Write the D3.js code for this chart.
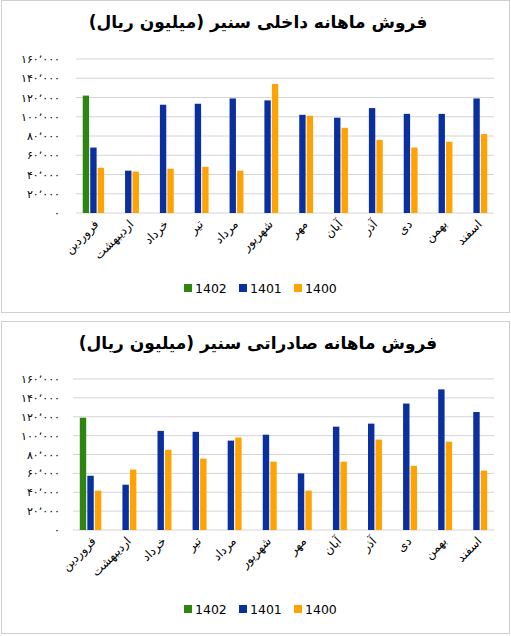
<!DOCTYPE html>
<html><head><meta charset="utf-8">
<script src="https://cdn.jsdelivr.net/npm/d3@7"></script>
<style>body{margin:0;background:#fff}svg{display:block}text{font-family:"DejaVu Sans",sans-serif}</style>
</head><body><svg id="c" width="511" height="636"></svg>
<script>
const months = ["فروردین","اردیبهشت","خرداد","تیر","مرداد","شهریور","مهر","آبان","آذر","دی","بهمن","اسفند"];
const years = ["1402","1401","1400"];
const colors = ["#2e8512","#0a2f9f","#ffa305"];
const ticks = [0,20000,40000,60000,80000,100000,120000,140000,160000];

// فروش داخلی
const dom1402 = [122000,null,null,null,null,null,null,null,null,null,null,null];
const dom1401 = [68000,44000,112500,113500,119000,117000,102000,99000,109000,103000,103000,119000];
const dom1400 = [47000,43000,46000,48000,44000,134000,101000,88500,76000,68000,74000,82000];
// فروش صادراتی
const exp1402 = [119000,null,null,null,null,null,null,null,null,null,null,null];
const exp1401 = [57500,48000,105000,104000,94700,101000,60000,109500,112700,134000,149000,125000];
const exp1400 = [41700,64000,85000,75600,98000,72400,41700,72400,95800,68000,93600,63000];

const svg = d3.select("#c");
const fa = s => s.replace(/\d/g, d => "۰۱۲۳۴۵۶۷۸۹"[d]);

function chart(top, title, series, y0, y1, x0) {
  const g = svg.append("g");
  g.append("rect").attr("x", 1.5).attr("y", top + 0.5).attr("width", 508).attr("height", 312)
    .attr("fill", "#fff").attr("stroke", "#d0d0d0");
  g.append("text").attr("x", 258).attr("y", top + 28).attr("text-anchor", "middle")
    .attr("font-size", 17).attr("font-weight", "bold").attr("direction", "rtl").text(title);
  const x = d3.scaleBand().domain(months).range([x0, 494]);
  const y = d3.scaleLinear().domain([0, 160000]).range([y0, y1]);
  g.selectAll(".grid").data(ticks).join("line")
    .attr("x1", x0).attr("x2", 494).attr("y1", d => y(d)).attr("y2", d => y(d))
    .attr("stroke", "#d4d4d4");
  g.selectAll(".tl").data(ticks).join("text")
    .attr("x", 60).attr("y", d => y(d) + 4).attr("text-anchor", "end").attr("font-size", 11)
    .text(d => fa(d3.format(",")(d)).replace(/,/g, "٬"));
  const inner = d3.scaleBand().domain(years).range([0, x.bandwidth()]).paddingInner(0.15).paddingOuter(0.9);
  series.forEach((s, i) => {
    g.selectAll(".b" + i).data(months.map((m, j) => ({m, v: s[j]})).filter(d => d.v != null)).join("rect")
      .attr("x", d => x(d.m) + inner(years[i])).attr("width", inner.bandwidth())
      .attr("y", d => y(d.v)).attr("height", d => y(0) - y(d.v)).attr("fill", colors[i]);
  });
  g.selectAll(".xl").data(months).join("text")
    .attr("transform", d => `translate(${x(d) + x.bandwidth() / 2 + 6},${y0 + 12}) rotate(-45)`)
    .attr("text-anchor", "end").attr("font-size", 12).text(d => d);
  const lg = g.append("g").attr("transform", `translate(184,${top + 293})`);
  years.forEach((yr, i) => {
    lg.append("rect").attr("x", i * 55).attr("y", -9).attr("width", 8).attr("height", 8).attr("fill", colors[i]);
    lg.append("text").attr("x", i * 55 + 11).attr("y", 0).attr("font-size", 12.5)
      .attr("font-family", "Liberation Sans, sans-serif").text(yr);
  });
}

chart(0, "فروش ماهانه داخلی سنیر (میلیون ریال)", [dom1402, dom1401, dom1400], 213, 59, 76);
chart(321, "فروش ماهانه صادراتی سنیر (میلیون ریال)", [exp1402, exp1401, exp1400], 530, 379, 73);
</script></body></html>
